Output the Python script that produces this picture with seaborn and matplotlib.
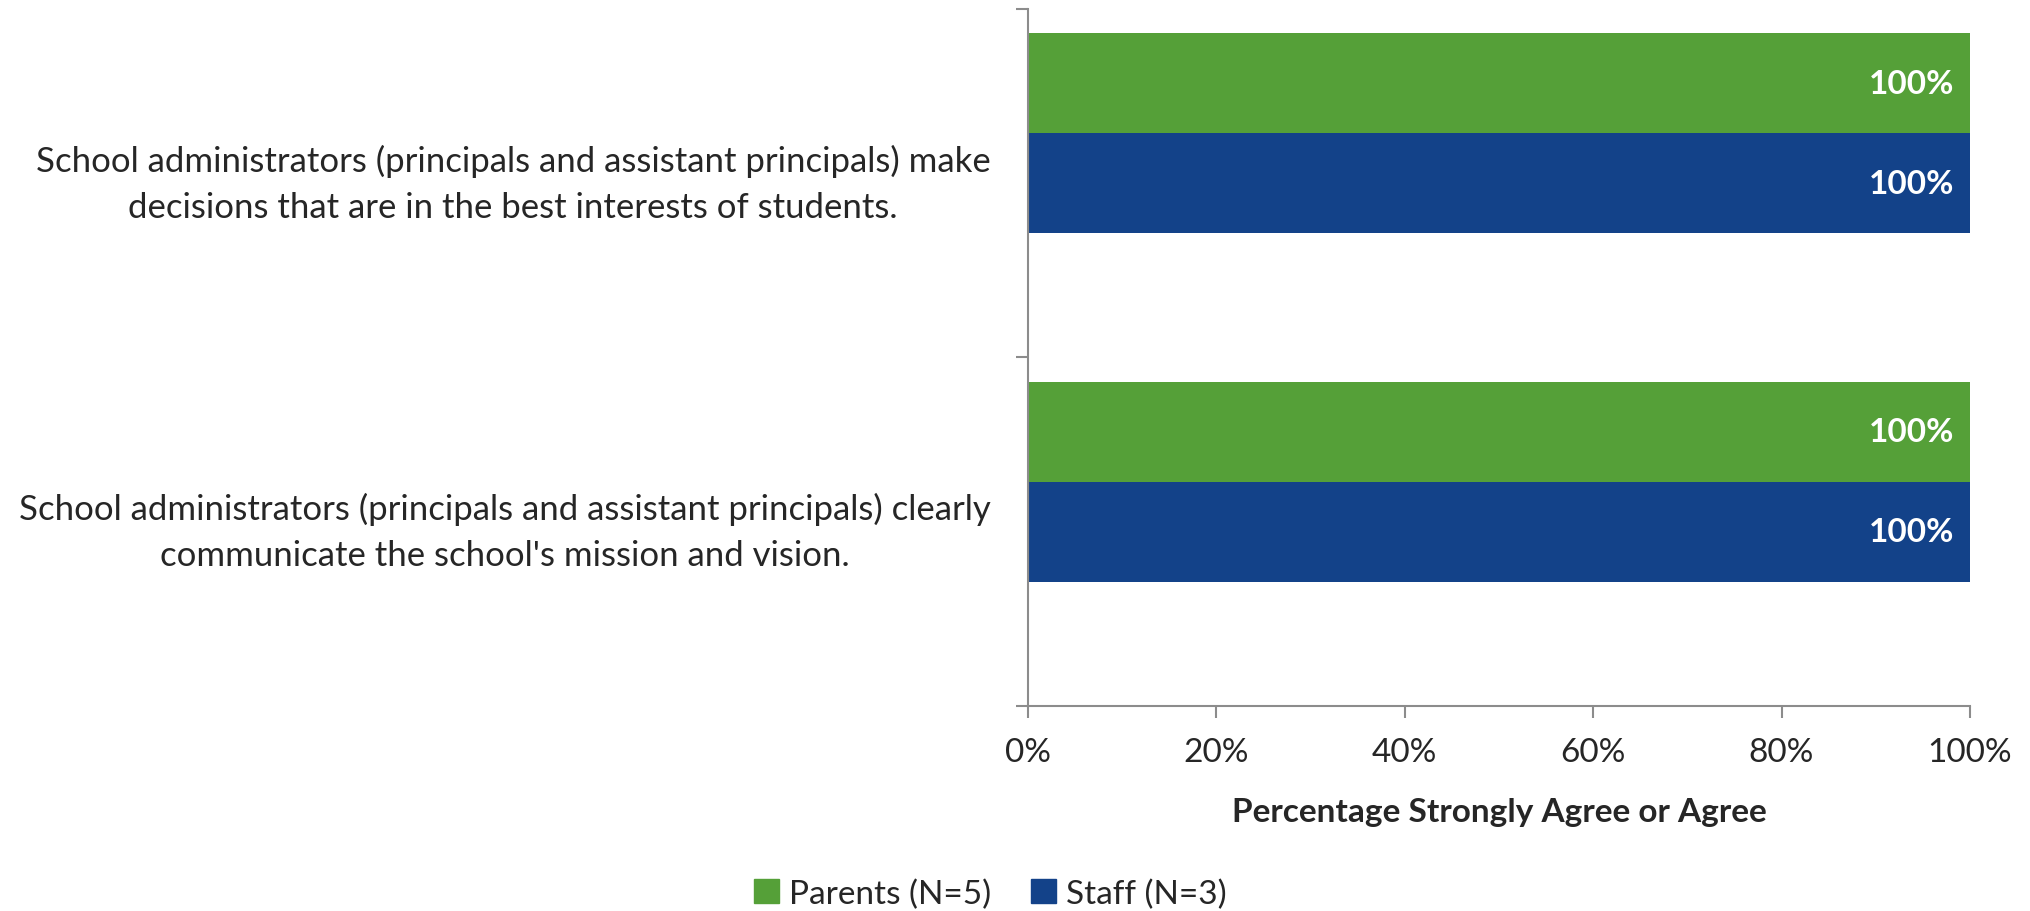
import matplotlib
matplotlib.use("Agg")
import matplotlib.pyplot as plt
import matplotlib.patches as mpatches
from matplotlib.ticker import FixedLocator, FuncFormatter
import pandas as pd
import seaborn as sns

questions = [
    "School administrators (principals and assistant principals) make\ndecisions that are in the best interests of students.",
    "School administrators (principals and assistant principals) clearly\ncommunicate the school's mission and vision.",
]
groups = ["Parents (N=5)", "Staff (N=3)"]
parents = [100, 100]
staff = [100, 100]
colors = ["#55A038", "#134289"]

df = pd.DataFrame({
    "question": questions * 2,
    "group": [groups[0]] * len(parents) + [groups[1]] * len(staff),
    "pct": parents + staff,
})

sns.set_style("white")
plt.rcParams["font.family"] = ["Lato", "DejaVu Sans"]
grey = "#8C8C8C"

fig = plt.figure(figsize=(20.3, 9.12), dpi=100)
ax = fig.add_axes([0.5064, 0.2248, 0.4640, 0.7643])

# third (empty) hue level keeps the Excel-style slot below the two bars
sns.barplot(data=df, y="question", x="pct", hue="group",
            hue_order=groups + [" "], palette=colors + ["#FFFFFF"],
            order=questions, orient="h", width=0.861, ax=ax,
            legend=False, linewidth=0, saturation=1, errorbar=None)

ax.set_xlim(0, 100)
ax.set_ylim(1.5, -0.5)
ax.set_xticks([0, 20, 40, 60, 80, 100])
ax.xaxis.set_major_formatter(FuncFormatter(lambda v, p: f"{v:.0f}%"))
ax.tick_params(axis="x", length=8.6, width=1.5, color=grey, direction="out",
               labelsize=24, pad=13.5, bottom=True)
ax.tick_params(axis="y", which="major", length=0, labelsize=25, pad=27)
ax.yaxis.set_minor_locator(FixedLocator([-0.5, 0.5, 1.5]))
ax.tick_params(axis="y", which="minor", length=8.6, width=1.5, color=grey,
               direction="out", left=True)
for t in ax.get_yticklabels():
    t.set_multialignment("center")
    t.set_linespacing(1.55)
    t.set_verticalalignment("center")

ax.set_ylabel("")
ax.set_xlabel("Percentage Strongly Agree or Agree", fontsize=24,
              fontweight="bold", labelpad=22)

for s in ["top", "right"]:
    ax.spines[s].set_visible(False)
for s in ["left", "bottom"]:
    ax.spines[s].set_color(grey)
    ax.spines[s].set_linewidth(1.5)

for cont in ax.containers[:2]:
    for p in cont.patches:
        if p.get_width() > 0:
            ax.annotate(f"{p.get_width():.0f}%",
                        xy=(p.get_width(), p.get_y() + p.get_height() / 2),
                        xytext=(-11, 0), textcoords="offset points",
                        ha="right", va="center", color="white",
                        fontsize=24, fontweight="bold")

handles = [mpatches.Patch(color=c, label=g) for g, c in zip(groups, colors)]
fig.legend(handles=handles, loc="center", bbox_to_anchor=(0.488, 0.019),
           ncol=2, frameon=False, fontsize=24, handlelength=0.75,
           handleheight=0.75, handletextpad=0.3, columnspacing=1.2)

fig.savefig("out.png", dpi=100)
